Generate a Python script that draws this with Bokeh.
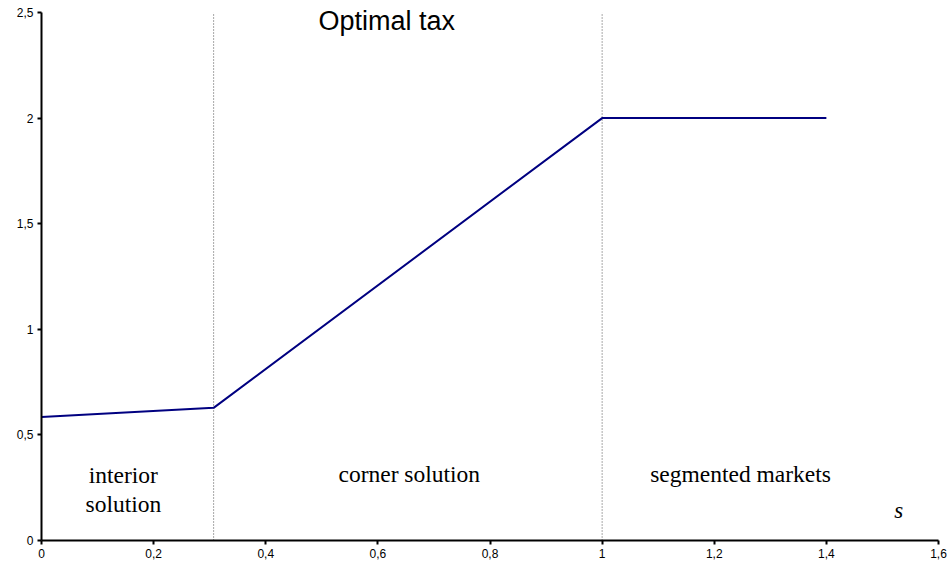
from bokeh.plotting import figure
from bokeh.models import Range1d, FixedTicker, CustomJSTickFormatter, Label
from bokeh.core.properties import value
from bokeh.embed import file_html
from bokeh.resources import INLINE

# data
s_vals = [0.0, 0.307, 1.0, 1.4]
tax_vals = [0.585, 0.628, 2.0, 2.0]
boundaries = [0.307, 1.0]
x_ticks = [0, 0.2, 0.4, 0.6, 0.8, 1.0, 1.2, 1.4, 1.6]
y_ticks = [0, 0.5, 1.0, 1.5, 2.0, 2.5]
region_labels = ["interior", "solution", "corner solution", "segmented markets"]
region_x = [0.146, 0.146, 0.656, 1.247]
region_y = [0.308, 0.175, 0.317, 0.317]
title_text = "Optimal tax"

p = figure(width=948, height=568, output_backend="svg", toolbar_location=None,
           x_range=Range1d(0, 1.6), y_range=Range1d(0, 2.552),
           min_border_left=41, min_border_top=1, min_border_bottom=28, min_border_right=10)
p.frame_width = 897
p.frame_height = 539
p.outline_line_color = None
p.xgrid.visible = False
p.ygrid.visible = False
p.background_fill_color = "white"

fmt = CustomJSTickFormatter(code="return tick.toFixed(1).replace(/\\.0$/, '').replace('.', ',');")
for ax, ticks, bnds in ((p.xaxis[0], x_ticks, (0, 1.6)), (p.yaxis[0], y_ticks, (0, 2.5))):
    ax.ticker = FixedTicker(ticks=ticks)
    ax.formatter = fmt
    ax.bounds = bnds
    ax.axis_line_width = 2
    ax.axis_line_color = "black"
    ax.major_tick_line_width = 2
    ax.major_tick_line_color = "black"
    ax.major_tick_out = 4
    ax.major_tick_in = 0
    ax.minor_tick_line_color = None
    ax.major_label_text_font = "Liberation Sans"
    ax.major_label_text_font_size = "12px"
    ax.major_label_text_color = "black"
    ax.major_label_standoff = 4

for b in boundaries:
    p.line([b, b], [0, 2.5], line_color="#505050", line_width=1, line_dash="1 2")

p.line(s_vals, tax_vals, line_color="#000080", line_width=2)

p.text(x=region_x, y=region_y, text=region_labels, text_align="center", text_baseline="middle",
       text_font=value("Liberation Serif"), text_font_size="23.5px", text_color="black")
p.text(x=[1.529], y=[0.142], text=["s"], text_align="center", text_baseline="middle",
       text_font=value("Liberation Serif"), text_font_style="italic", text_font_size="23px",
       text_color="black")
p.add_layout(Label(x=0.616, y=2.462, text=title_text, text_align="center", text_baseline="middle",
                   text_font="Liberation Sans", text_font_size="27px", text_color="black"))

open("out.html", "w").write(file_html(p, INLINE))
